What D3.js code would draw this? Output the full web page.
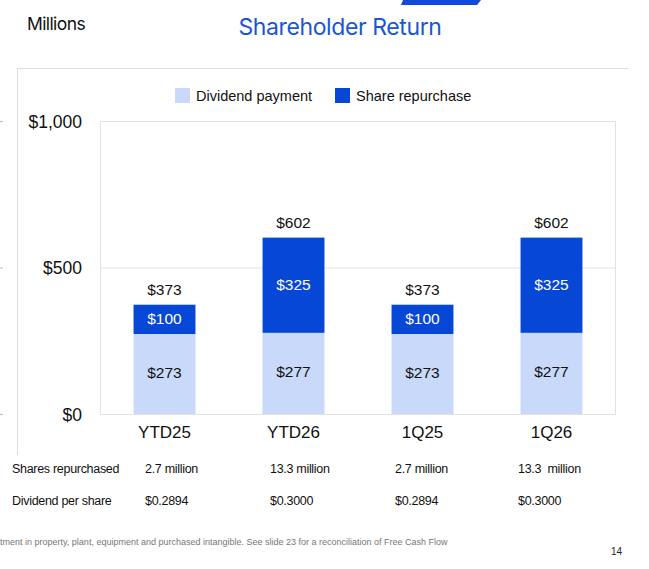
<!DOCTYPE html>
<html>
<head>
<meta charset="utf-8">
<script src="https://cdn.jsdelivr.net/npm/d3@7"></script>
<style>
  html, body { margin: 0; padding: 0; background: #fff; }
  svg { display: block; }
</style>
</head>
<body>
<svg id="chart" width="649" height="569"></svg>
<script>
// ---- data ----
const categories = ["YTD25", "YTD26", "1Q25", "1Q26"];
const dividendPayment = [273, 277, 273, 277];
const shareRepurchase = [100, 325, 100, 325];
const totals = [373, 602, 373, 602];
const yTicks = [0, 500, 1000];
const yTickLabels = ["$0", "$500", "$1,000"];
const seriesNames = ["Dividend payment", "Share repurchase"];
const sharesRepurchased = ["2.7 million", "13.3 million", "2.7 million", "13.3  million"];
const dividendPerShare = ["$0.2894", "$0.3000", "$0.2894", "$0.3000"];
const rowLabels = ["Shares repurchased", "Dividend per share"];

// ---- styles ----
const lightBlue = "#c8d9fa";
const darkBlue = "#0747d6";
const chartFont = "'Liberation Sans', Arial, sans-serif";

const svg = d3.select("#chart");

// decoration at top
svg.append("path")
  .attr("d", "M403,0 L481,0 L477,5 L401,5 Z")
  .attr("fill", "#1149d8");

// title
svg.append("text").attr("x", 27).attr("y", 30)
  .attr("font-family", "Inter, 'Liberation Sans', sans-serif")
  .attr("font-size", 17.5).attr("letter-spacing", -0.6).attr("fill", "#111")
  .text("Millions");
svg.append("text").attr("x", 340).attr("y", 35).attr("text-anchor", "middle")
  .attr("font-family", "Inter, 'Liberation Sans', sans-serif")
  .attr("font-size", 23).attr("letter-spacing", -0.4).attr("fill", "#1a56d4")
  .text("Shareholder Return");

// outer frame
svg.append("line").attr("x1", 17).attr("x2", 628).attr("y1", 68.5).attr("y2", 68.5)
  .attr("stroke", "#dedede").attr("stroke-width", 1);
svg.append("line").attr("x1", 17.5).attr("x2", 17.5).attr("y1", 68).attr("y2", 455)
  .attr("stroke", "#dedede").attr("stroke-width", 1);

// scales
const x = d3.scaleBand().domain(categories).range([100, 616]).paddingInner(0.52).paddingOuter(0.26);
const y = d3.scaleLinear().domain([0, 1000]).range([414, 121]);

// tiny marks at far left
svg.append("g").selectAll("line").data(yTicks).join("line")
  .attr("x1", 0).attr("x2", 3)
  .attr("y1", d => y(d) + 0.5).attr("y2", d => y(d) + 0.5)
  .attr("stroke", "#bbb");

// plot frame
svg.append("rect").attr("x", 100.5).attr("y", y(1000) + 0.5)
  .attr("width", 515).attr("height", y(0) - y(1000))
  .attr("fill", "none").attr("stroke", "#e2e2e2");

// gridline
svg.append("g").selectAll("line").data(yTicks.filter(d => d > 0 && d < 1000)).join("line")
  .attr("x1", 100).attr("x2", 616)
  .attr("y1", d => y(d) + 0.5).attr("y2", d => y(d) + 0.5)
  .attr("stroke", "#e2e2e2");

// y axis labels
const yAxis = d3.axisLeft(y).tickValues(yTicks).tickFormat((d, i) => yTickLabels[i]).tickSize(0).tickPadding(0);
const yg = svg.append("g").attr("transform", "translate(82,0)").call(yAxis);
yg.select(".domain").remove();
yg.selectAll("text").attr("font-family", chartFont).attr("font-size", 17.5)
  .attr("fill", "#111").attr("dy", "0.35em");

// x axis labels
const xAxis = d3.axisBottom(x).tickSize(0).tickPadding(0);
const xg = svg.append("g").attr("transform", "translate(0,426)").call(xAxis);
xg.select(".domain").remove();
xg.selectAll("text").attr("font-family", chartFont).attr("font-size", 17)
  .attr("fill", "#111").attr("dy", "0.71em");

// stacked bars
const stack = categories.map((c, i) => ({
  cat: c, div: dividendPayment[i], rep: shareRepurchase[i], total: totals[i]
}));

const bars = svg.append("g");
bars.selectAll("rect.div").data(stack).join("rect").attr("class", "div")
  .attr("x", d => x(d.cat)).attr("width", x.bandwidth())
  .attr("y", d => y(d.div)).attr("height", d => y(0) - y(d.div))
  .attr("fill", lightBlue);
bars.selectAll("rect.rep").data(stack).join("rect").attr("class", "rep")
  .attr("x", d => x(d.cat)).attr("width", x.bandwidth())
  .attr("y", d => y(d.div + d.rep)).attr("height", d => y(d.div) - y(d.div + d.rep))
  .attr("fill", darkBlue);

// labels inside
bars.selectAll("text.divl").data(stack).join("text").attr("class", "divl")
  .attr("x", d => x(d.cat) + x.bandwidth() / 2)
  .attr("y", d => (y(0) + y(d.div)) / 2 - 1.5).attr("dy", "0.36em")
  .attr("text-anchor", "middle").attr("font-family", chartFont).attr("font-size", 15.5)
  .attr("fill", "#111").text(d => "$" + d.div);
bars.selectAll("text.repl").data(stack).join("text").attr("class", "repl")
  .attr("x", d => x(d.cat) + x.bandwidth() / 2)
  .attr("y", d => (y(d.div) + y(d.div + d.rep)) / 2 - 0.5).attr("dy", "0.36em")
  .attr("text-anchor", "middle").attr("font-family", chartFont).attr("font-size", 15.5)
  .attr("fill", "#fff").text(d => "$" + d.rep);
bars.selectAll("text.tot").data(stack).join("text").attr("class", "tot")
  .attr("x", d => x(d.cat) + x.bandwidth() / 2)
  .attr("y", d => y(d.total) - 10)
  .attr("text-anchor", "middle").attr("font-family", chartFont).attr("font-size", 15.5)
  .attr("fill", "#111").text(d => "$" + d.total);

// legend
const legendItems = [
  { name: seriesNames[0], color: lightBlue, x: 175 },
  { name: seriesNames[1], color: darkBlue, x: 335 }
];
const lg = svg.append("g").selectAll("g").data(legendItems).join("g")
  .attr("transform", d => `translate(${d.x},88)`);
lg.append("rect").attr("width", 15).attr("height", 15).attr("fill", d => d.color);
lg.append("text").attr("x", 21).attr("y", 13).attr("font-family", chartFont)
  .attr("font-size", 14.5).attr("fill", "#111").text(d => d.name);

// table
const tableFont = "'Liberation Sans Narrow', 'Liberation Sans', Arial, sans-serif";
const colX = [145, 270, 395, 518];
const rows = [sharesRepurchased, dividendPerShare];
const rowY = [473, 505];
rows.forEach((r, ri) => {
  svg.append("text").attr("x", 12).attr("y", rowY[ri])
    .attr("font-family", tableFont).attr("font-size", 12.5).attr("fill", "#111")
    .attr("letter-spacing", -0.3)
    .text(rowLabels[ri]);
  svg.append("g").selectAll("text").data(r).join("text")
    .attr("x", (d, i) => colX[i]).attr("y", rowY[ri])
    .attr("font-family", tableFont).attr("font-size", 12.5).attr("fill", "#111")
    .attr("letter-spacing", -0.3)
    .attr("xml:space", "preserve")
    .text(d => d);
});

// footnote
svg.append("text").attr("x", 0).attr("y", 545)
  .attr("font-family", tableFont).attr("font-size", 9).attr("fill", "#777")
  .text("tment in property, plant, equipment and purchased intangible. See slide 23 for a reconciliation of Free Cash Flow");
svg.append("text").attr("x", 622).attr("y", 555).attr("text-anchor", "end")
  .attr("font-family", chartFont).attr("font-size", 10).attr("fill", "#222")
  .text("14");
</script>
</body>
</html>
